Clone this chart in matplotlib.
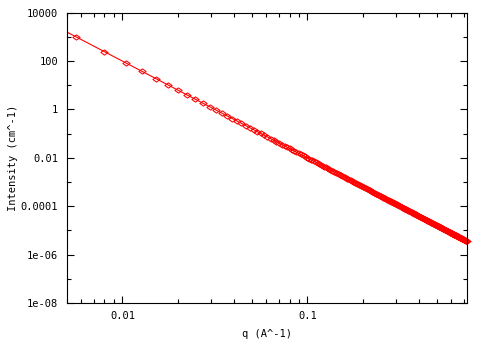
import numpy as np
import matplotlib
matplotlib.use('Agg')
from matplotlib import pyplot as plt
from matplotlib.path import Path
from matplotlib.ticker import FixedLocator, FixedFormatter, NullFormatter

# q grid of the measured points, in units of 1e-4 A^-1
q_e4 = [
  56, 80, 104, 128, 152, 176, 200, 224, 248, 272,
  296, 320, 344, 368, 392, 416, 440, 464, 488, 512,
  536, 560, 584, 608, 632, 656, 680, 704, 728, 752,
  776, 800, 824, 848, 872, 896, 920, 944, 968, 992,
  1016, 1040, 1064, 1088, 1112, 1136, 1160, 1184, 1208, 1232,
  1256, 1280, 1304, 1328, 1352, 1376, 1400, 1424, 1448, 1472,
  1496, 1520, 1544, 1568, 1592, 1616, 1640, 1664, 1688, 1712,
  1736, 1760, 1784, 1808, 1832, 1856, 1880, 1904, 1928, 1952,
  1976, 2000, 2024, 2048, 2072, 2096, 2120, 2144, 2168, 2192,
  2216, 2240, 2264, 2288, 2312, 2336, 2360, 2384, 2408, 2432,
  2456, 2480, 2504, 2528, 2552, 2576, 2600, 2624, 2648, 2672,
  2696, 2720, 2744, 2768, 2792, 2816, 2840, 2864, 2888, 2912,
  2936, 2960, 2984, 3008, 3032, 3056, 3080, 3104, 3128, 3152,
  3176, 3200, 3224, 3248, 3272, 3296, 3320, 3344, 3368, 3392,
  3416, 3440, 3464, 3488, 3512, 3536, 3560, 3584, 3608, 3632,
  3656, 3680, 3704, 3728, 3752, 3776, 3800, 3824, 3848, 3872,
  3896, 3920, 3944, 3968, 3992, 4016, 4040, 4064, 4088, 4112,
  4136, 4160, 4184, 4208, 4232, 4256, 4280, 4304, 4328, 4352,
  4376, 4400, 4424, 4448, 4472, 4496, 4520, 4544, 4568, 4592,
  4616, 4640, 4664, 4688, 4712, 4736, 4760, 4784, 4808, 4832,
  4856, 4880, 4904, 4928, 4952, 4976, 5000, 5024, 5048, 5072,
  5096, 5120, 5144, 5168, 5192, 5216, 5240, 5264, 5288, 5312,
  5336, 5360, 5384, 5408, 5432, 5456, 5480, 5504, 5528, 5552,
  5576, 5600, 5624, 5648, 5672, 5696, 5720, 5744, 5768, 5792,
  5816, 5840, 5864, 5888, 5912, 5936, 5960, 5984, 6008, 6032,
  6056, 6080, 6104, 6128, 6152, 6176, 6200, 6224, 6248, 6272,
  6296, 6320, 6344, 6368, 6392, 6416, 6440, 6464, 6488, 6512,
  6536, 6560, 6584, 6608, 6632, 6656, 6680, 6704, 6728, 6752,
  6776, 6800, 6824, 6848, 6872, 6896, 6920, 6944, 6968, 6992,
  7016, 7040, 7064, 7088, 7112, 7136, 7160, 7184, 7208, 7232,
  7256,
]

# Porod law: I = scale * q^-exponent
porod_scale = 1e-6
porod_exponent = 4.0

q_min = 0.005
y_ticks = [1e-8, 1e-6, 1e-4, 1e-2, 1, 100, 10000]
y_tick_labels = ['1e-08', '1e-06', '0.0001', '0.01', '1', '100', '10000']
x_ticks = [0.01, 0.1]
x_tick_labels = ['0.01', '0.1']

q = np.array(q_e4) * 1e-4
intensity = porod_scale * q ** -porod_exponent
q_fit = np.concatenate([[q_min], q])
intensity_fit = porod_scale * q_fit ** -porod_exponent

# flat diamond, like the gnuplot point
flat_diamond = Path([(-1, 0), (0, 0.72), (1, 0), (0, -0.72), (-1, 0)], closed = True)

plt.rcParams['font.family'] = ['DejaVu Sans Mono']
fig = plt.figure(figsize = (4.84, 3.39), dpi = 100)
ax = fig.add_axes([0.1378, 0.1062, 0.8265, 0.8563])

ax.plot(q, intensity, linestyle = 'none', marker = flat_diamond, markersize = 5.2,
        markerfacecolor = 'none', markeredgecolor = '#ff0000', markeredgewidth = 0.75,
        clip_on = False)
ax.plot(q_fit, intensity_fit, color = '#ff0000', linewidth = 0.8)

ax.set_xscale('log')
ax.set_yscale('log')
ax.set_xlim(q_min, q[-1])
ax.set_ylim(1e-8, 1e4)

ax.yaxis.set_major_locator(FixedLocator(y_ticks))
ax.yaxis.set_major_formatter(FixedFormatter(y_tick_labels))
ax.yaxis.set_minor_locator(FixedLocator([1e-7, 1e-5, 1e-3, 1e-1, 10, 1000]))
ax.yaxis.set_minor_formatter(NullFormatter())

ax.xaxis.set_major_locator(FixedLocator(x_ticks))
ax.xaxis.set_major_formatter(FixedFormatter(x_tick_labels))
minor_x = [m * d for d in (0.001, 0.01, 0.1) for m in range(2, 10)]
ax.xaxis.set_minor_locator(FixedLocator(minor_x))
ax.xaxis.set_minor_formatter(NullFormatter())

ax.tick_params(which = 'both', direction = 'in', top = True, right = True,
               labelsize = 7.5, width = 0.8, color = 'black', pad = 6)
ax.tick_params(which = 'major', length = 5)
ax.tick_params(which = 'minor', length = 3)
for s in ax.spines.values():
  s.set_linewidth(0.8)

ax.set_xlabel('q (A^-1)', fontsize = 7.5, va = 'center')
ax.set_ylabel('Intensity (cm^-1)', fontsize = 7.5, va = 'center')
ax.xaxis.set_label_coords(0.5, -0.107)
ax.yaxis.set_label_coords(-0.135, 0.5)

fig.savefig('out.png', dpi = 100)
